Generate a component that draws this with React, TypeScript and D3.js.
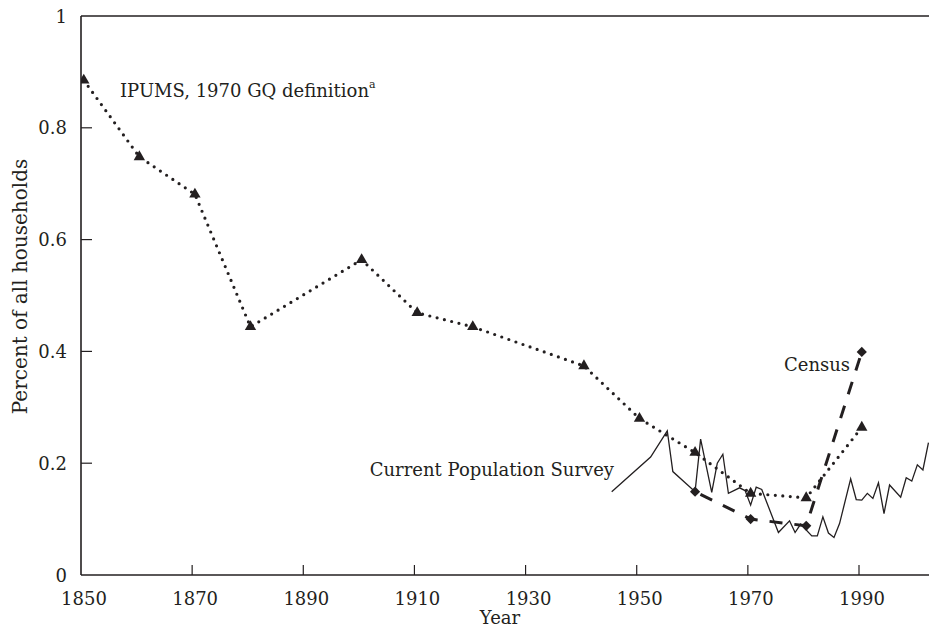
import React from "react";
import * as d3 from "d3";

// Share of households living in group quarters, 1850–2002
const ipumsYears = [1850, 1860, 1870, 1880, 1900, 1910, 1920, 1940, 1950, 1960, 1970, 1980, 1990];
const ipumsValues = [0.885, 0.748, 0.681, 0.444, 0.564, 0.469, 0.444, 0.374, 0.28, 0.219, 0.146, 0.138, 0.264];

const censusYears = [1960, 1970, 1980, 1990];
const censusValues = [0.149, 0.1, 0.088, 0.399];

const cpsYears = [
  1945, 1952, 1955, 1956, 1960, 1961, 1963, 1964, 1965, 1966, 1968, 1969, 1970, 1971, 1972,
  1975, 1977, 1978, 1979, 1981, 1982, 1983, 1984, 1985, 1986, 1988, 1989, 1990, 1991, 1992,
  1993, 1994, 1995, 1997, 1998, 1999, 2000, 2001, 2002,
];
const cpsValues = [
  0.149, 0.211, 0.258, 0.185, 0.149, 0.243, 0.148, 0.2, 0.216, 0.146, 0.156, 0.151, 0.125, 0.157, 0.153,
  0.076, 0.097, 0.076, 0.091, 0.07, 0.07, 0.104, 0.075, 0.067, 0.092, 0.172, 0.135, 0.134, 0.146, 0.137,
  0.165, 0.11, 0.161, 0.139, 0.174, 0.168, 0.197, 0.188, 0.237,
];

const xTicks = [1850, 1870, 1890, 1910, 1930, 1950, 1970, 1990];
const yTicks = [0, 0.2, 0.4, 0.6, 0.8, 1];

const W = 929;
const H = 631;
const ink = "#231f20";
const font = "'DejaVu Serif', serif";

export default function App() {
  const x = d3.scaleLinear().domain([1850, 1990]).range([81, 859]);
  const y = d3.scaleLinear().domain([0, 1]).range([575, 16]);
  // observations are placed at mid-year
  const px = (yr: number) => x(yr + 0.5);

  const line = d3
    .line<[number, number]>()
    .x((d) => px(d[0]))
    .y((d) => y(d[1]));

  const ipums = ipumsYears.map((yr, i) => [yr, ipumsValues[i]] as [number, number]);
  const census = censusYears.map((yr, i) => [yr, censusValues[i]] as [number, number]);
  const cps = cpsYears.map((yr, i) => [yr, cpsValues[i]] as [number, number]);

  const tri = d3.symbol().type(d3.symbolTriangle).size(56)() as string;
  const sq = d3.symbol().type(d3.symbolSquare).size(52)() as string;

  const x0 = x.range()[0];
  const y0 = y(0);
  const y1 = y(1);

  return (
    <svg
      width={W}
      height={H}
      style={{ position: "absolute", left: 0, top: 0, background: "#fff" }}
      fontFamily={font}
    >
      <defs>
        <clipPath id="plot">
          <rect x={x0} y={y1} width={W - x0} height={y0 - y1} />
        </clipPath>
      </defs>

      {/* frame */}
      <line x1={x0} x2={W} y1={y0} y2={y0} stroke={ink} strokeWidth={1.6} />
      <line x1={x0} x2={x0} y1={y1} y2={y0} stroke={ink} strokeWidth={1.6} />
      <line x1={x0} x2={W} y1={y1} y2={y1} stroke={ink} strokeWidth={1.3} />

      {/* y axis */}
      {yTicks.map((t) => (
        <g key={"y" + t}>
          {t > 0 && t < 1 && (
            <line x1={x0} x2={x0 + 11} y1={y(t)} y2={y(t)} stroke={ink} strokeWidth={1.2} />
          )}
          <text
            x={67}
            y={y(t)}
            textAnchor="end"
            dominantBaseline="central"
            fontSize={18}
            fill={ink}
          >
            {t === 0 || t === 1 ? String(t) : t.toFixed(1)}
          </text>
        </g>
      ))}

      {/* x axis */}
      {xTicks.map((t) => (
        <g key={"x" + t}>
          {t > 1850 && (
            <line x1={x(t)} x2={x(t)} y1={y0} y2={y0 - 10} stroke={ink} strokeWidth={1.2} />
          )}
          <text x={x(t) + 3} y={605} textAnchor="middle" fontSize={18} fill={ink}>
            {t}
          </text>
        </g>
      ))}

      <text x={500} y={624} textAnchor="middle" fontSize={18} fill={ink}>
        Year
      </text>
      <text
        transform={`translate(27, ${(y0 + y1) / 2 - 9}) rotate(-90)`}
        textAnchor="middle"
        fontSize={20}
        fill={ink}
      >
        Percent of all households
      </text>

      <g clipPath="url(#plot)">
        {/* Current Population Survey */}
        <path d={line(cps) as string} fill="none" stroke={ink} strokeWidth={1.3} strokeLinejoin="miter" />

        {/* Census */}
        <path
          d={line(census) as string}
          fill="none"
          stroke={ink}
          strokeWidth={3}
          strokeDasharray="13 12"
          strokeDashoffset={-6}
        />
        {census.map((d) => (
          <path
            key={"c" + d[0]}
            d={sq}
            transform={`translate(${px(d[0])},${y(d[1])}) rotate(45)`}
            fill={ink}
          />
        ))}

        {/* IPUMS */}
        <path
          d={line(ipums) as string}
          fill="none"
          stroke={ink}
          strokeWidth={3.2}
          strokeDasharray="0 7.5"
          strokeLinecap="round"
        />
        {ipums.map((d) => (
          <path key={"i" + d[0]} d={tri} transform={`translate(${px(d[0])},${y(d[1])})`} fill={ink} />
        ))}
      </g>

      {/* series labels */}
      <text x={120} y={97} fontSize={18} fill={ink}>
        IPUMS, 1970 GQ definition
        <tspan fontSize={11} dy={-9}>
          a
        </tspan>
      </text>
      <text x={784} y={371} fontSize={18} fill={ink}>
        Census
      </text>
      <text x={614} y={476} textAnchor="end" fontSize={18} fill={ink}>
        Current Population Survey
      </text>
    </svg>
  );
}
